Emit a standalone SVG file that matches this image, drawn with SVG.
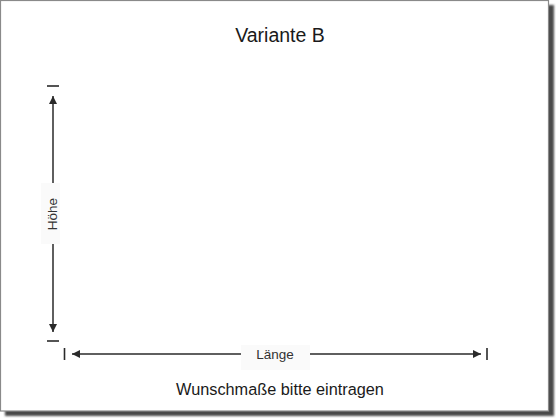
<svg xmlns="http://www.w3.org/2000/svg" width="560" height="420" viewBox="0 0 560 420">
  <style>
    .t { font-family: "Liberation Sans", Arial, sans-serif; fill: #1a1a1a; text-anchor: middle; }
    .lbl { font-family: "Liberation Sans", Arial, sans-serif; fill: #333; text-anchor: middle; font-size: 13.5px; }
    .ln { stroke: #2a2a2a; stroke-width: 1.5; fill: none; }
    .tick { stroke: #2a2a2a; stroke-width: 1.6; fill: none; }
    .bg { fill: #fafafa; }
  </style>
  <defs>
    <marker id="ah" viewBox="0 0 10 10" refX="10" refY="5" markerWidth="5.5" markerHeight="5.5" orient="auto" markerUnits="strokeWidth">
      <path d="M0,0 L10,5 L0,10 z" fill="#2a2a2a"/>
    </marker>
    <filter id="sh" x="-5%" y="-5%" width="110%" height="110%">
      <feGaussianBlur stdDeviation="1.3"/>
    </filter>
  </defs>
  <rect width="560" height="420" fill="#ffffff"/>
  <g id="frame">
    <rect x="5" y="5" width="549" height="411" fill="#4a4a4a" filter="url(#sh)"/>
    <rect x="0.5" y="0.5" width="548" height="410.5" fill="#ffffff" stroke="#8a8a8a" stroke-width="1.2"/>
  </g>
  <g id="title">
    <text class="t" x="280" y="41.5" font-size="19.5">Variante B</text>
  </g>
  <g id="connectors">
    <line class="ln" x1="53" y1="183" x2="53" y2="96" marker-end="url(#ah)"/>
    <line class="ln" x1="53" y1="244" x2="53" y2="332" marker-end="url(#ah)"/>
    <line class="ln" x1="241" y1="354" x2="72" y2="354" marker-end="url(#ah)"/>
    <line class="ln" x1="310" y1="354" x2="481" y2="354" marker-end="url(#ah)"/>
    <line class="tick" x1="47" y1="86" x2="59" y2="86"/>
    <line class="tick" x1="47" y1="341" x2="59" y2="341"/>
    <line class="tick" x1="64.5" y1="348" x2="64.5" y2="360"/>
    <line class="tick" x1="487" y1="348" x2="487" y2="360"/>
  </g>
  <g id="hoehe">
    <rect class="bg" x="41" y="183" width="19" height="61"/>
    <text class="lbl" transform="translate(57,214) rotate(-90)" x="0" y="0">Höhe</text>
  </g>
  <g id="laenge">
    <rect class="bg" x="241" y="345" width="69" height="25"/>
    <text class="lbl" x="275" y="359">Länge</text>
  </g>
  <g id="note">
    <text class="t" x="280" y="395" font-size="16.3" fill="#222">Wunschmaße bitte eintragen</text>
  </g>
</svg>
